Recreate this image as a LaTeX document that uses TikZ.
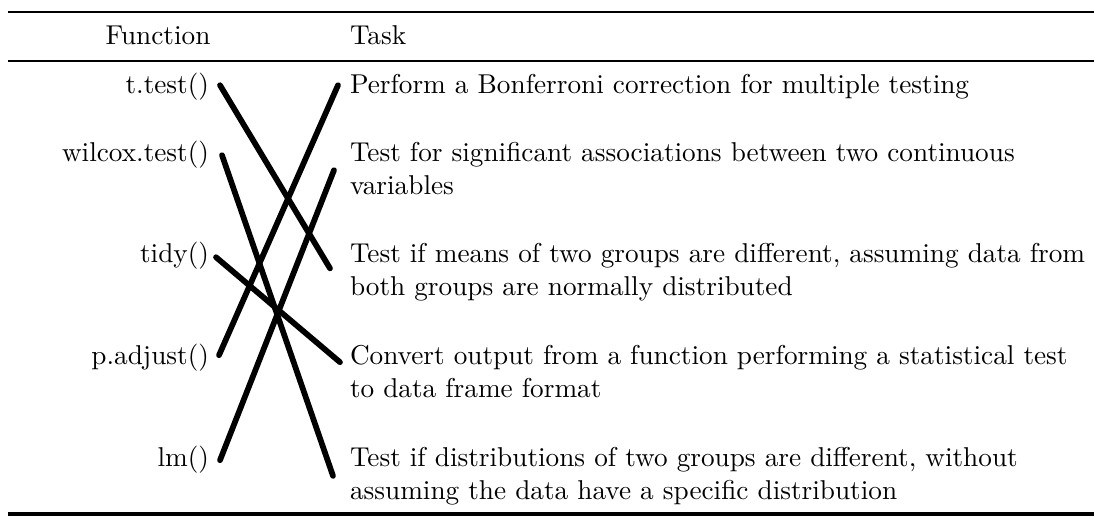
\documentclass[tikz,border=0pt]{standalone}
\usepackage{tikz}
\usetikzlibrary{calc}

\begin{document}
\begin{tikzpicture}[x=0.367pt, y=-0.367pt,
  every node/.style={inner sep=0pt, outer sep=0pt},
  fn/.style={anchor=base east},
  task/.style={anchor=base west, align=left},
  link/.style={line width=2.1pt, line cap=round}]
\useasboundingbox (0,0) rectangle (1094,518);

% table rules
\draw[line width=0.9pt] (8,12) -- (1094,12);
\draw[line width=0.4pt] (8,61) -- (1094,61);
\draw[line width=1.3pt] (8,514) -- (1094,514);

% header
\node[anchor=base] (hfun) at (158,44) {Function};
\node[anchor=base west] (htask) at (350,44) {Task};

% functions
\node[fn] (ttest) at (209,93) {t.test()};
\node[fn] (wilcox) at (209,161) {wilcox.test()};
\node[fn] (tidy) at (209,262) {tidy()};
\node[fn] (padjust) at (209,364) {p.adjust()};
\node[fn] (lm) at (209,466) {lm()};

% tasks (base = last line)
\node[task] (bonf) at (350,93) {Perform a Bonferroni correction for multiple testing};
\node[task] (assoc) at (350,194) {Test for significant associations between two continuous\\variables};
\node[task] (means) at (350,295) {Test if means of two groups are different, assuming data from\\both groups are normally distributed};
\node[task] (convert) at (350,397) {Convert output from a function performing a statistical test\\to data frame format};
\node[task] (distrib) at (350,499) {Test if distributions of two groups are different, without\\assuming the data have a specific distribution};

% matches
\draw[link] ([shift={(11,-1)}]ttest.east) -- ([shift={(-20,-3.5)}]means.west);
\draw[link] ([shift={(13,1)}]wilcox.east) -- ([shift={(-17,0)}]distrib.west);
\draw[link] ([shift={(7,2)}]tidy.east) -- ([shift={(-10,-9)}]convert.west);
\draw[link] ([shift={(10,-2)}]padjust.east) -- ([shift={(-12,-1)}]bonf.west);
\draw[link] ([shift={(11,1)}]lm.east) -- ([shift={(-16,2)}]assoc.west);
\end{tikzpicture}
\end{document}
